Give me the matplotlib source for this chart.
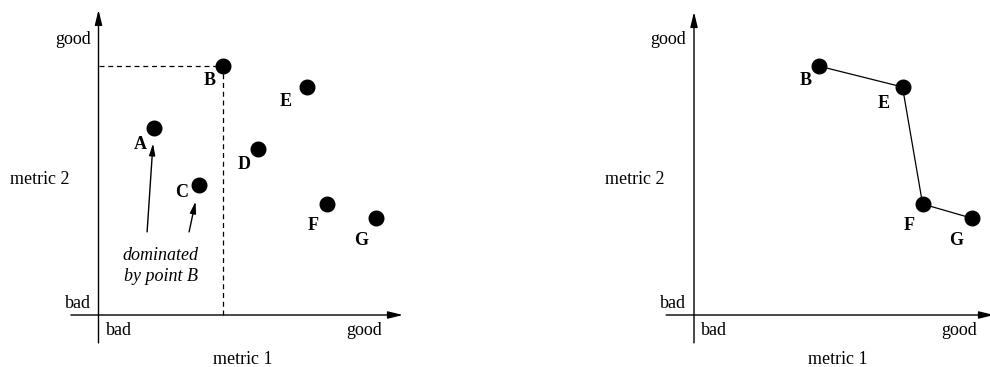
import matplotlib
matplotlib.use("Agg")
import matplotlib.pyplot as plt

plt.rcParams['font.family'] = ['Liberation Serif', 'DejaVu Serif']

# Data (metric 1, metric 2) in arbitrary units
names = ['A', 'B', 'C', 'D', 'E', 'F', 'G']
metric1 = [1.85, 4.15, 3.35, 5.32, 6.95, 7.62, 9.25]
metric2 = [6.23, 8.30, 4.33, 5.53, 7.60, 3.70, 3.23]
pareto = ['B', 'E', 'F', 'G']
dominated = ['A', 'C']
dominator = 'B'
x_ticklabels = ['bad', 'good']
y_ticklabels = ['bad', 'good']
xlabel = 'metric 1'
ylabel = 'metric 2'

# label offsets in pixels (style)
label_off = {'A': (-14, -16), 'B': (-13, -15), 'C': (-17, -7), 'D': (-14, -15),
             'E': (-21, -15), 'F': (-14, -22), 'G': (-15, -22)}
label_off_r = {'B': (-13, -15), 'E': (-19, -16), 'F': (-13, -22), 'G': (-15, -22)}

W, H = 990, 367
fig = plt.figure(figsize=(W / 100, H / 100), dpi=100)

FS = 13
UNIT = 30.0  # pixels per data unit


def make_axes(px_left, px_right, origin_px):
    ox, oy = origin_px
    ax = fig.add_axes([px_left / W, 0, (px_right - px_left) / W, 1])
    ax.set_xlim((px_left - ox) / UNIT, (px_right - ox) / UNIT)
    ax.set_ylim((oy - H) / UNIT, oy / UNIT)
    ax.axis('off')
    return ax


def draw_frame(ax, xmin, xmax, ymin, ymax, ylab_x):
    ax.annotate('', xy=(xmax, 0), xytext=(xmin, 0),
                arrowprops=dict(arrowstyle='-|>,head_width=0.22,head_length=0.9',
                                lw=1.0, color='black', shrinkA=0, shrinkB=0),
                annotation_clip=False)
    ax.annotate('', xy=(0, ymax), xytext=(0, ymin),
                arrowprops=dict(arrowstyle='-|>,head_width=0.22,head_length=0.9',
                                lw=1.0, color='black', shrinkA=0, shrinkB=0),
                annotation_clip=False)
    ax.text(-0.26, 9.2, y_ticklabels[1], ha='right', va='center', fontsize=FS)
    ax.text(-0.26, 0.4, y_ticklabels[0], ha='right', va='center', fontsize=FS)
    ax.text(ylab_x, 4.53, ylabel, ha='center', va='center', fontsize=FS)
    ax.text(0.24, -0.53, x_ticklabels[0], ha='left', va='center', fontsize=FS)
    ax.text(9.44, -0.53, x_ticklabels[1], ha='right', va='center', fontsize=FS)
    ax.text(4.81, -1.47, xlabel, ha='center', va='center', fontsize=FS)


pos = {n: (x, y) for n, x, y in zip(names, metric1, metric2)}

# ---- left panel ----
axL = make_axes(0, 495, (98.5, 315))
draw_frame(axL, -0.92, 10.15, -0.93, 10.17, -1.95)
bx, by = pos[dominator]
axL.plot([0, bx], [by, by], ls=(0, (4, 3)), lw=0.9, color='black')
axL.plot([bx, bx], [0, by], ls=(0, (4, 3)), lw=0.9, color='black')
axL.plot(metric1, metric2, 'o', color='black', ms=10.5, zorder=5)
for n in names:
    axL.annotate(n, pos[n], xytext=label_off[n], textcoords='offset pixels',
                 ha='center', va='center', fontsize=FS, fontweight='bold')
# dominated arrows
arrow_tails = {'A': (1.62, 2.77), 'C': (3.02, 2.77)}
arrow_shrink = {'A': 11, 'C': 12}
for n in dominated:
    axL.annotate('', xy=pos[n], xytext=arrow_tails[n],
                 arrowprops=dict(arrowstyle='-|>,head_width=0.18,head_length=0.7',
                                 lw=1.0, color='black', shrinkA=0,
                                 shrinkB=arrow_shrink[n]))
axL.text(2.08, 2.0, 'dominated', ha='center', va='center', fontsize=FS, style='italic')
axL.text(2.08, 1.27, 'by point ' + dominator, ha='center', va='center', fontsize=FS,
         style='italic')

# ---- right panel ----
axR = make_axes(495, 990, (694, 315))
draw_frame(axR, -0.93, 10.0, -0.93, 10.1, -1.97)
px = [pos[n][0] for n in pareto]
py = [pos[n][1] for n in pareto]
axR.plot(px, py, '-', color='black', lw=0.9)
axR.plot(px, py, 'o', color='black', ms=10.5, zorder=5)
for n in pareto:
    axR.annotate(n, pos[n], xytext=label_off_r[n], textcoords='offset pixels',
                 ha='center', va='center', fontsize=FS, fontweight='bold')

fig.savefig('out.png', dpi=100, facecolor='white')
